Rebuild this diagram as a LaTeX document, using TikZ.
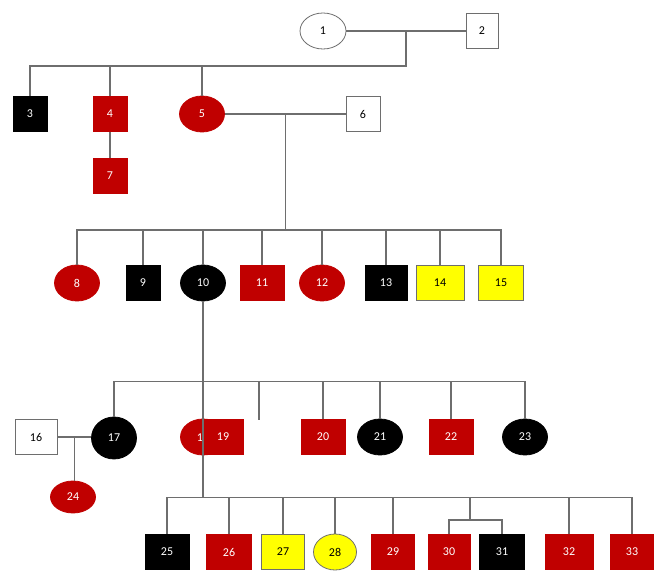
\documentclass[tikz,border=0pt]{standalone}
\usepackage{fontspec}
\setmainfont{Carlito}
\usepackage{tikz}
\usetikzlibrary{shapes.geometric, positioning, calc}
\definecolor{pedred}{RGB}{192,0,0}
\definecolor{pedyellow}{RGB}{255,255,0}
\definecolor{pedline}{RGB}{110,110,110}
\tikzset{
  male/.style={rectangle, draw=pedline, fill=white, text=black,
    minimum width=34pt, minimum height=35pt, inner sep=0pt,
    font=\fontsize{12}{14}\selectfont, line width=0.8pt},
  female/.style={ellipse, draw=pedline, fill=white, text=black,
    minimum width=45pt, minimum height=36pt, inner sep=0pt,
    font=\fontsize{12}{14}\selectfont, line width=0.8pt},
  redf/.style={fill=pedred, draw=pedred, text=white},
  blackf/.style={fill=black, draw=black, text=white},
  yellowf/.style={fill=pedyellow, draw=pedline, text=black},
  link/.style={draw=pedline, line width=1.3pt}
}

\begin{document}
\begin{tikzpicture}[x=1pt, y=-1pt]
  \useasboundingbox (0,0) rectangle (669,572);
  % generation I
  \node[female, minimum width=46pt] (n1) at (323,31) {1};
  \node[male, minimum width=32pt] (n2) at (482,31) {2};
  % generation II
  \node[male, blackf] (n3) at (30,114) {3};
  \node[male, redf] (n4) at (110,114) {4};
  \node[female, redf] (n5) at (202,114) {5};
  \node[male] (n6) at (363,114) {6};
  \node[male, redf] (n7) at (110,176) {7};
  % generation III
  \node[female, redf] (n8) at (77,283) {8};
  \node[male, blackf] (n9) at (143,283) {9};
  \node[female, blackf] (n10) at (203,283) {10};
  \node[male, redf, minimum width=44pt] (n11) at (262,283) {11};
  \node[female, redf] (n12) at (322,283) {12};
  \node[male, blackf, minimum width=42pt] (n13) at (386,283) {13};
  \node[male, yellowf, minimum width=48pt] (n14) at (440,283) {14};
  \node[male, yellowf, minimum width=45pt] (n15) at (501,283) {15};
  % generation IV
  \node[male, minimum width=42pt] (n16) at (36,437) {16};
  \node[female, blackf, minimum height=42pt] (n17) at (114,438) {17};
  \node[female, redf] (n18) at (203,437) {18};
  \node[male, redf, minimum width=40pt] (n19) at (223,437) {19};
  \node[male, redf, minimum width=44pt] (n20) at (323,437) {20};
  \node[female, blackf] (n21) at (380,437) {21};
  \node[male, redf, minimum width=44pt] (n22) at (451,437) {22};
  \node[female, blackf] (n23) at (525,437) {23};
  \node[female, redf, minimum height=32pt] (n24) at (73,497) {24};
  % generation V
  \node[male, blackf, minimum width=44pt] (n25) at (167,552) {25};
  \node[male, redf, minimum width=45pt] (n26) at (229,552) {26};
  \node[male, yellowf, minimum width=43pt] (n27) at (283,552) {27};
  \node[female, yellowf, minimum width=43pt] (n28) at (335,552) {28};
  \node[male, redf, minimum width=43pt] (n29) at (393,552) {29};
  \node[male, redf, minimum width=42pt] (n30) at (449,552) {30};
  \node[male, blackf, minimum width=45pt] (n31) at (502,552) {31};
  \node[male, redf, minimum width=48pt] (n32) at (569,552) {32};
  \node[male, redf, minimum width=43pt] (n33) at (632,552) {33};

  % couples and sibships
  \draw[link] (n1.east) -- (n2.west);
  \coordinate (m12) at ($(n1.east)!0.5!(n2.west)$);
  \path (m12) ++(0,35) coordinate (s1);
  \draw[link] (m12) -- (s1) -| (n3.north);
  \foreach \k in {4,5} \draw[link] (n\k.north) -- (n\k.north |- s1);
  \draw[link] (n4.south) -- (n7.north);

  \draw[link] (n5.east) -- (n6.west);
  \coordinate (m56) at ($(n5.east)!0.5!(n6.west)$);
  \path (m56) ++(0,116) coordinate (s2);
  \draw[link] (m56) -- (s2);
  \draw[link] (n8.north) |- (n15.north |- s2) -- (n15.north);
  \foreach \k in {9,...,14} \draw[link] (n\k.north) -- (n\k.north |- s2);

  \path (n10.south) ++(0,80) coordinate (s3);
  \path (n10.south) ++(0,196) coordinate (s4);
  \draw[link] (n17.north) |- (n23.north |- s3) -- (n23.north);
  \foreach \k in {20,21,22} \draw[link] (n\k.north) -- (n\k.north |- s3);
  \coordinate (stubtop) at (259,382);
  \coordinate (stubend) at (259,420);
  \draw[link] (stubtop) -- (stubend);

  \draw[link] (n16.east) -- (n16.east -| n17.west);
  \coordinate (m1617) at ($(n16.east)!0.5!(n16.east -| n17.west)$);
  \draw[link] (m1617) -- (m1617 |- n24.north);

  \draw[link] (n25.north) |- (n33.north |- s4) -- (n33.north);
  \foreach \k in {26,27,28,29,32} \draw[link] (n\k.north) -- (n\k.north |- s4);
  \coordinate (tw) at (470,498);
  \path (tw) ++(0,22) coordinate (tw2);
  \draw[link] (tw) -- (tw2);
  \draw[link] (n30.north) |- (tw2) -| (n31.north);

  \draw[link] (n10.south) -- (s4);
\end{tikzpicture}
\end{document}
